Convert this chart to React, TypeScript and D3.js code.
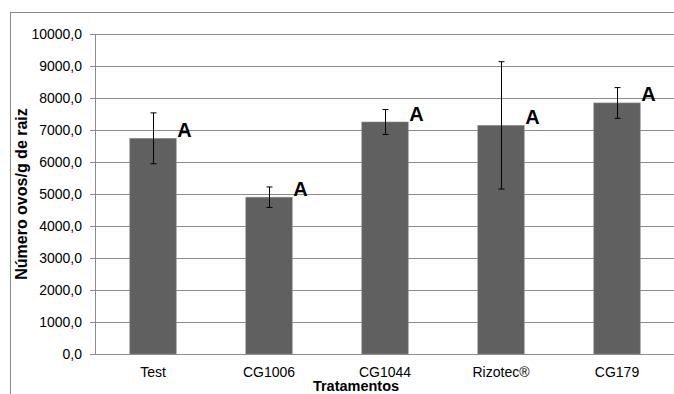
import React from 'react';
import * as d3 from 'd3';

const categories = ['Test', 'CG1006', 'CG1044', 'Rizotec®', 'CG179'];
const means = [6740, 4900, 7250, 7145, 7845];
const errors = [795, 320, 390, 1990, 480];
const letters = ['A', 'A', 'A', 'A', 'A'];
const yTicks = [0, 1000, 2000, 3000, 4000, 5000, 6000, 7000, 8000, 9000, 10000];

const W = 674;
const H = 394;
const left = 95;
const right = 675;
const top = 34;
const bottom = 354;

const fmt = (v: number) => v.toFixed(1).replace('.', ',');

export default function App() {
  const x = d3.scaleBand<string>()
    .domain(categories)
    .range([left, right])
    .paddingInner(0.6)
    .paddingOuter(0.3);

  const y = d3.scaleLinear().domain([0, 10000]).range([bottom, top]);
  const font = 'Arial, "Liberation Sans", sans-serif';

  return (
    <svg width={W} height={H} style={{ position: 'absolute', left: 0, top: 0 }} fontFamily={font}>
      <rect x={0} y={0} width={W} height={H} fill="#fff" />
      {/* chart area border */}
      <rect x={10.5} y={12.5} width={W + 20} height={H + 20} fill="none" stroke="#8a8a8a" />

      {/* gridlines */}
      {yTicks.map(t => (
        <line key={t} x1={left} x2={right} y1={Math.round(y(t)) + 0.5} y2={Math.round(y(t)) + 0.5}
          stroke="#8c8c8c" strokeWidth={1} />
      ))}

      {/* bars */}
      {categories.map((c, i) => (
        <rect key={c} x={x(c)} y={y(means[i])} width={x.bandwidth()} height={bottom - y(means[i])}
          fill="#606060" stroke="#8a8a8a" strokeWidth={0.6} />
      ))}

      {/* error bars */}
      {categories.map((c, i) => {
        const cx = Math.round(x(c)! + x.bandwidth() / 2) + 0.5;
        const y1 = y(means[i] + errors[i]);
        const y2 = y(means[i] - errors[i]);
        return (
          <g key={c} stroke="#000" strokeWidth={1}>
            <line x1={cx} x2={cx} y1={y1} y2={y2} />
            <line x1={cx - 3} x2={cx + 3} y1={y1} y2={y1} />
            <line x1={cx - 3} x2={cx + 3} y1={y2} y2={y2} />
          </g>
        );
      })}

      {/* significance letters */}
      {categories.map((c, i) => (
        <text key={c} x={x(c)! + x.bandwidth() + 1} y={y(means[i]) - 1.5}
          fontSize={20} fontWeight="bold" fill="#000">{letters[i]}</text>
      ))}

      {/* y axis */}
      <line x1={left + 0.5} x2={left + 0.5} y1={top} y2={bottom + 0.5} stroke="#8c8c8c" />
      {yTicks.map(t => (
        <g key={t}>
          <line x1={left - 5} x2={left} y1={Math.round(y(t)) + 0.5} y2={Math.round(y(t)) + 0.5} stroke="#8c8c8c" />
          <text x={82} y={y(t) + 5} textAnchor="end" fontSize={14} fill="#000">{fmt(t)}</text>
        </g>
      ))}

      {/* x axis */}
      <line x1={left} x2={right} y1={bottom + 0.5} y2={bottom + 0.5} stroke="#8c8c8c" />
      {categories.map(c => (
        <text key={c} x={x(c)! + x.bandwidth() / 2} y={377} textAnchor="middle" fontSize={14} fill="#000">{c}</text>
      ))}

      <text x={356} y={391} textAnchor="middle" fontSize={14.5} fontWeight="bold" fill="#000">Tratamentos</text>
      <text transform={`translate(27,194) rotate(-90)`} textAnchor="middle" fontSize={16} fontWeight="bold" fill="#000">
        Número ovos/g de raiz
      </text>
    </svg>
  );
}
